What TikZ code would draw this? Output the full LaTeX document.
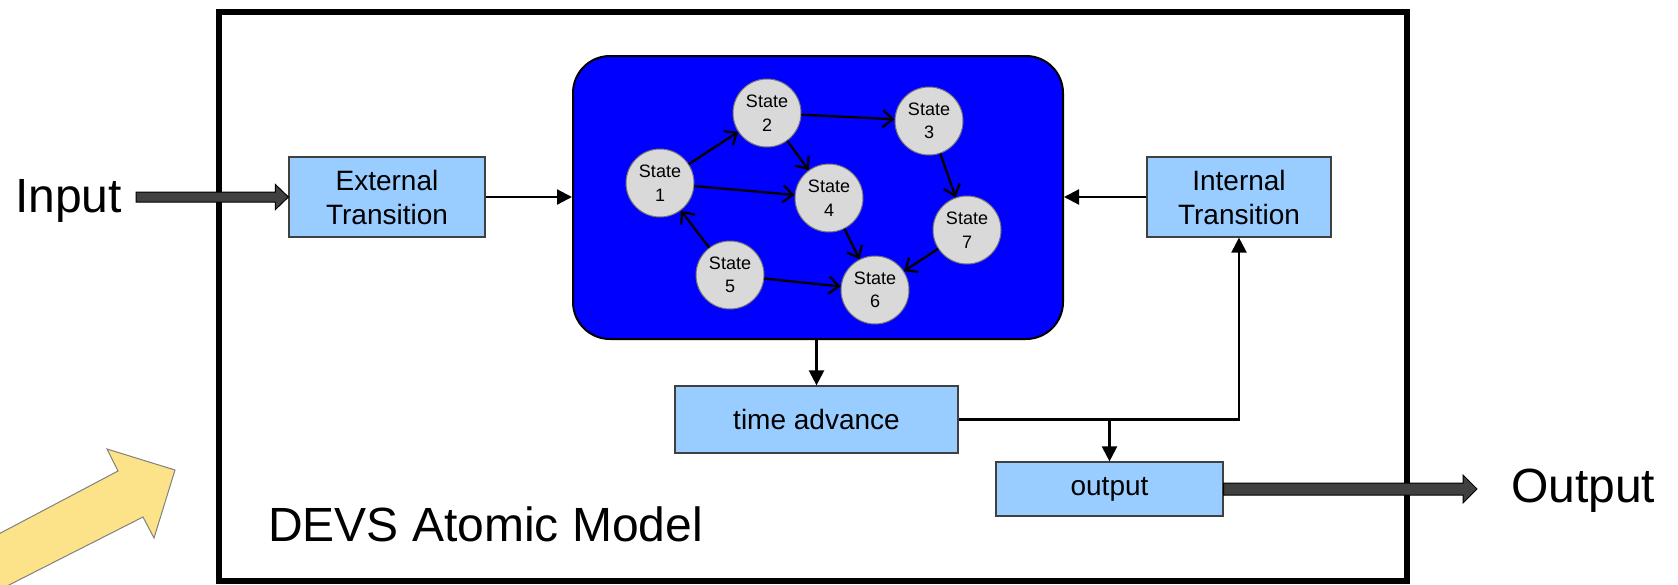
\documentclass[tikz,border=0pt]{standalone}
\usepackage{fontspec}
\setmainfont{Liberation Sans}
\usetikzlibrary{arrows.meta,calc}
\definecolor{boxblue}{HTML}{99CCFF}
\definecolor{corefill}{HTML}{0000FF}
\definecolor{statefill}{HTML}{D9D9D9}
\definecolor{fatgray}{HTML}{404040}
\definecolor{hintyellow}{HTML}{FCE38A}
\begin{document}
\begin{tikzpicture}[x=1pt,y=-1pt,
  funcbox/.style={draw=black!75, line width=1.2pt, fill=boxblue, inner sep=0pt,
    align=center, font=\fontsize{28}{34}\selectfont},
  statenode/.style={circle, draw=black!55, line width=1pt, fill=statefill,
    minimum size=68pt, inner sep=0pt, align=center, font=\fontsize{18}{23.5}\selectfont},
  trans/.style={line width=2.3pt, -{Straight Barb[length=10pt,width=17pt]}},
  flow/.style={line width=2.2pt, -{Triangle[length=15pt,width=15pt]}},
  fat/.style={draw=black, line width=1pt, fill=fatgray},
  biglabel/.style={anchor=base west, inner sep=0pt, font=\fontsize{48}{56}\selectfont}]
\useasboundingbox (0,0) rectangle (1678,584);

% decorative yellow arrow in the lower left corner
\begin{scope}
  \clip (0,0) rectangle (1678,584);
  \draw[draw=gray, line width=1pt, fill=hintyellow]
    (-60,565) -- (118,471) -- (107,449) -- (175,470) -- (154,538) -- (143,517) -- (-60,620) -- cycle;
\end{scope}

% atomic model frame
\node[draw=black, line width=6pt, minimum width=1188pt, minimum height=569pt, inner sep=0pt]
  (atomic) at (813,296.5) {};
\node[biglabel] (title) at (268,541) {DEVS Atomic Model};

% state set
\node[draw=black, line width=2pt, fill=corefill, rounded corners=37pt,
  minimum width=490pt, minimum height=283pt, inner sep=0pt] (core) at (818,197.5) {};

\node[statenode] (s1) at (660,183) {State\\1};
\node[statenode] (s2) at (767,113) {State\\2};
\node[statenode] (s3) at (929,121) {State\\3};
\node[statenode] (s4) at (829,198) {State\\4};
\node[statenode] (s5) at (730,275) {State\\5};
\node[statenode] (s6) at (875,290) {State\\6};
\node[statenode] (s7) at (967,230) {State\\7};

\draw[trans] (s1) -- (s2);
\draw[trans] (s2) -- (s3);
\draw[trans] (s2) -- (s4);
\draw[trans] (s1) -- (s4);
\draw[trans] (s3) -- (s7);
\draw[trans] (s4) -- (s6);
\draw[trans] (s5) -- (s1);
\draw[trans] (s5) -- (s6);
\draw[trans] (s7) -- (s6);

% functions
\node[funcbox, minimum width=196pt, minimum height=80pt] (ext) at (387,197) {External\\Transition};
\node[funcbox, minimum width=184pt, minimum height=80pt] (int) at (1239,197) {Internal\\Transition};
\node[funcbox, minimum width=283pt, minimum height=67pt] (ta) at (816.5,419.5) {time advance};
\node[funcbox, minimum width=227pt, minimum height=54pt] (out) at (1109.5,489) {output};

\draw[flow] (ext) -- (core.west |- ext);
\draw[flow] (int) -- (core.east |- int);
\draw[flow] (core.south -| ta.north) -- (ta.north);
\draw[flow] (ta.east) -| (int.south);
\coordinate (split) at (ta.east -| out.north);
\draw[flow] (split) -- (out.north);

% input and output ports
\node[biglabel] (inlbl) at (15,212) {Input};
\node[biglabel] (outlbl) at (1511,502) {Output};
\coordinate (inStart) at (136,197);
\coordinate (outEnd) at (1477,489);

\draw[fat] ($(inStart)+(0,-5)$) -- ($(ext.west)+(-13,-5)$) -- ($(ext.west)+(-13,-12.5)$)
  -- (ext.west) -- ($(ext.west)+(-13,12.5)$) -- ($(ext.west)+(-13,5)$) -- ($(inStart)+(0,5)$) -- cycle;
\draw[fat] ($(out.east)+(0,-6)$) -- ($(outEnd)+(-14,-6)$) -- ($(outEnd)+(-14,-14)$)
  -- (outEnd) -- ($(outEnd)+(-14,14)$) -- ($(outEnd)+(-14,6)$) -- ($(out.east)+(0,6)$) -- cycle;
\end{tikzpicture}
\end{document}
